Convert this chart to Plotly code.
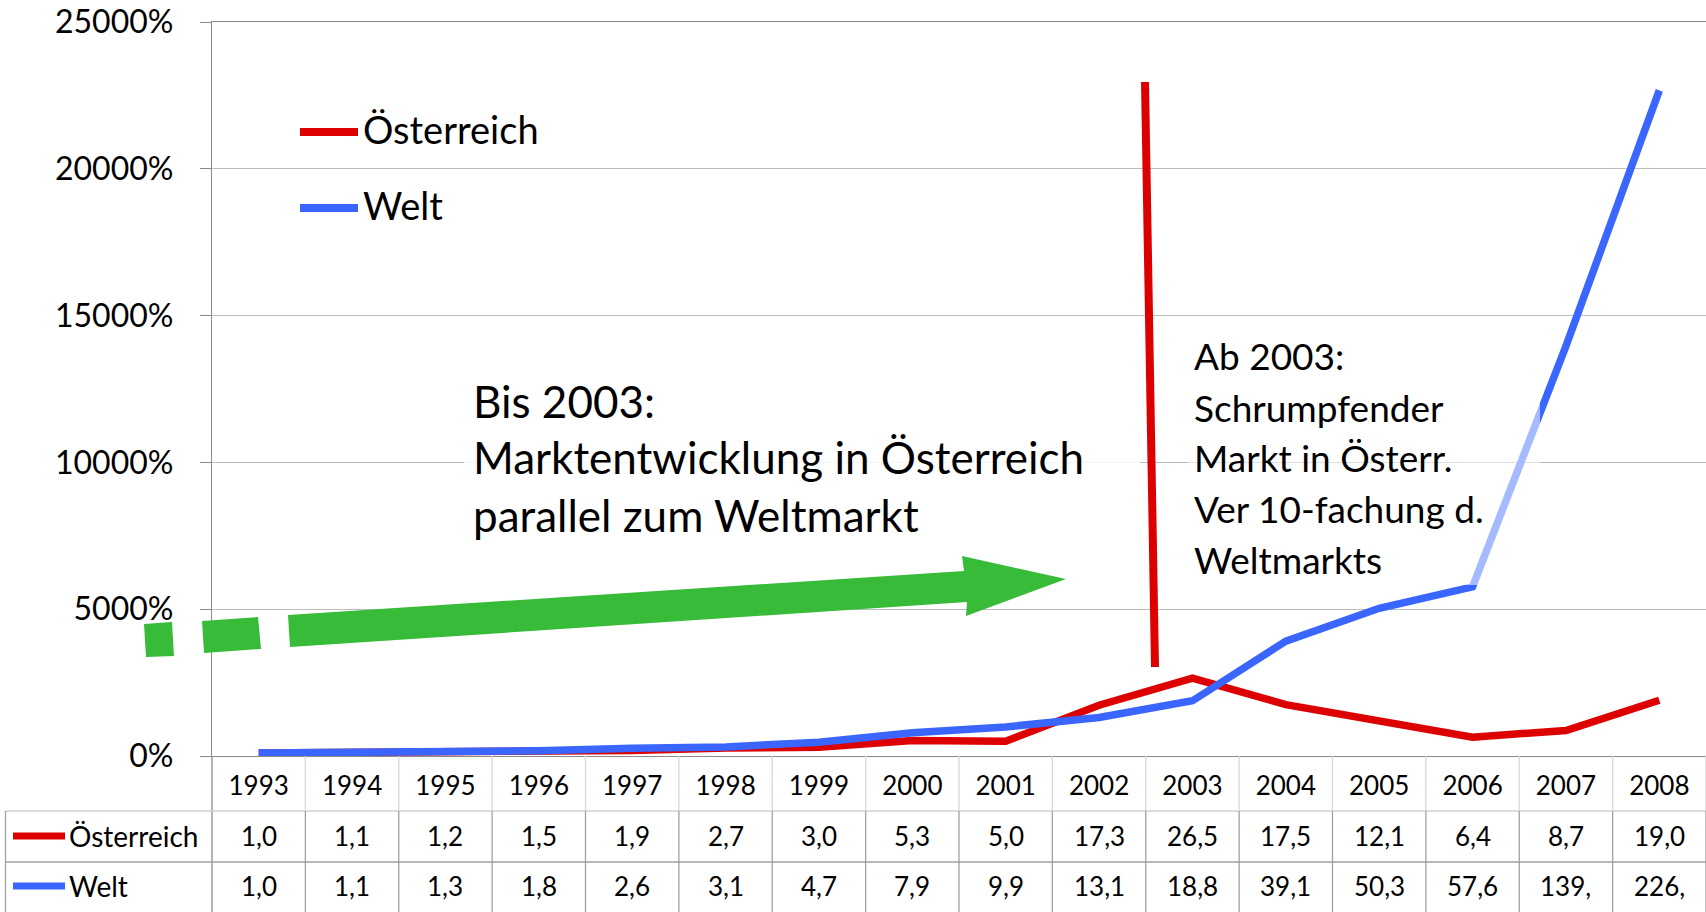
import plotly.graph_objects as go

# Werte als Vielfaches von 1993 (Tabelle unter dem Diagramm)
years = [str(y) for y in range(1993, 2009)]
oesterreich = [1.0, 1.1, 1.2, 1.5, 1.9, 2.7, 3.0, 5.3, 5.0, 17.3, 26.5, 17.5, 12.1, 6.4, 8.7, 19.0]
welt = [1.0, 1.1, 1.3, 1.8, 2.6, 3.1, 4.7, 7.9, 9.9, 13.1, 18.8, 39.1, 50.3, 57.6, 139.6, 226.7]
y_ticks = [0, 5000, 10000, 15000, 20000, 25000]

bis_text = ["Bis 2003:", "Marktentwicklung in Österreich", "parallel zum Weltmarkt"]
ab_text = ["Ab 2003:", "Schrumpfender", "Markt in Österr.", "Ver 10-fachung d.", "Weltmarkts"]

RED = "#dd0000"
BLUE = "#3a66ff"
GREEN = "#38bb38"
GRID = "#bdbdbd"
AXIS = "#8a8a8a"
FONT = "Lato, 'Open Sans', sans-serif"

W, H = 1706, 912
L, R, T, B = 212, 1706, 22, 756


def px(x):
    return (x - L) / (R - L)


def py(y):
    return (B - y) / (B - T)


def pct(v):
    return [x * 100 for x in v]


def fmt(v):
    return f"{v:.1f}".replace(".", ",")[:4]


idx = list(range(len(years)))
n = len(years)

fig = go.Figure()

fig.add_trace(go.Scatter(
    x=idx, y=pct(oesterreich), mode="lines", name="Österreich",
    line=dict(color=RED, width=7.5), hoverinfo="skip",
))
fig.add_trace(go.Scatter(
    x=idx, y=pct(welt), mode="lines", name="Welt",
    line=dict(color=BLUE, width=7.5), hoverinfo="skip",
))

shapes = []


def line(x0, y0, x1, y1, color, width):
    shapes.append(dict(type="line", xref="paper", yref="paper",
                       x0=px(x0), y0=py(y0), x1=px(x1), y1=py(y1),
                       line=dict(color=color, width=width), layer="above"))


def poly(points, color):
    d = "M " + " L ".join(f"{px(a):.5f},{py(b):.5f}" for a, b in points) + " Z"
    shapes.append(dict(type="path", xref="paper", yref="paper", path=d,
                       fillcolor=color, line=dict(width=0), layer="above"))


def box(x0, y0, x1, y1, color):
    shapes.append(dict(type="rect", xref="paper", yref="paper",
                       x0=px(x0), y0=py(y0), x1=px(x1), y1=py(y1),
                       fillcolor=color, line=dict(width=0), layer="above"))


# --------------------------------------------------
# Textfelder (halbtransparent) und Pfeil
# --------------------------------------------------
box(464, 380, 1140, 545, "rgba(255,255,255,0.85)")
box(1188, 332, 1540, 585, "rgba(255,255,255,0.55)")

poly([(144, 624), (172, 622), (174, 656), (146, 657)], GREEN)
poly([(202, 621), (258, 617), (261, 649), (204, 653)], GREEN)
poly([(288, 615), (964, 571), (962, 556), (1066, 579), (966, 616), (967, 602), (290, 647)], GREEN)

# rote Trennlinie
line(1145, 82, 1155, 667, RED, 8)

# --------------------------------------------------
# Legende oben
# --------------------------------------------------
line(300, 132, 358, 132, RED, 8)
line(300, 208, 358, 208, BLUE, 8)

# --------------------------------------------------
# Datentabelle
# --------------------------------------------------
line(L, B, L, H, AXIS, 1.3)
line(5.5, 811, W, 811, "#d0d0d0", 1.3)
line(5.5, 862, W, 862, "#a0a0a0", 1.3)
line(5.5, 811, 5.5, H, "#a0a0a0", 1.3)
for i in range(1, n + 1):
    xb = L + (R - L) * i / n
    line(xb, B, xb, 811, "#d8d8d8", 1.3)
    line(xb, 811, xb, H, "#a0a0a0", 1.3)
line(13, 836, 65, 836, RED, 7)
line(13, 886, 65, 886, BLUE, 7)

fig.update_layout(shapes=shapes)

ann = []


def text(x, y, t, size, xanchor="left", xref="paper"):
    ann.append(dict(x=x, y=py(y), xref=xref, yref="paper", text=t,
                    xanchor=xanchor, yanchor="middle", showarrow=False,
                    font=dict(size=size)))


for i, (a, w) in enumerate(zip(oesterreich, welt)):
    text(i, 836, fmt(a), 26, "center", "x")
    text(i, 886, fmt(w), 26, "center", "x")

text(px(67), 836, "Österreich", 28)
text(px(67), 886, "Welt", 28)

text(px(361), 129, "Österreich", 38)
text(px(361), 205, "Welt", 38)

for t, yy in zip(bis_text, [401, 457, 515]):
    text(px(471), yy, t, 44)
for t, yy in zip(ab_text, [355, 407, 457, 508, 559]):
    text(px(1192), yy, t, 37)

fig.update_layout(
    annotations=ann,
    width=W, height=H, autosize=False,
    margin=dict(l=L, r=W - R, t=T, b=H - B, pad=0),
    paper_bgcolor="white", plot_bgcolor="white",
    showlegend=False,
    font=dict(family=FONT, color="black"),
    xaxis=dict(
        range=[-0.5, n - 0.5], tickvals=idx, ticktext=years,
        showgrid=False, zeroline=False, ticks="",
        showline=True, linecolor=AXIS, linewidth=1.3, mirror=True,
        tickfont=dict(size=26), ticklabelstandoff=7,
    ),
    yaxis=dict(
        range=[0, 25000], tickvals=y_ticks,
        ticktext=[f"{v}%" for v in y_ticks],
        showgrid=True, gridcolor=GRID, gridwidth=1.3, zeroline=False,
        showline=True, linecolor=AXIS, linewidth=1.3,
        ticks="outside", ticklen=11, tickcolor=AXIS, tickwidth=1.3,
        tickfont=dict(size=32), ticklabelstandoff=20,
    ),
)

fig.write_html("out.html", config={"displayModeBar": False},
               post_script="document.body.style.margin='0px';")
